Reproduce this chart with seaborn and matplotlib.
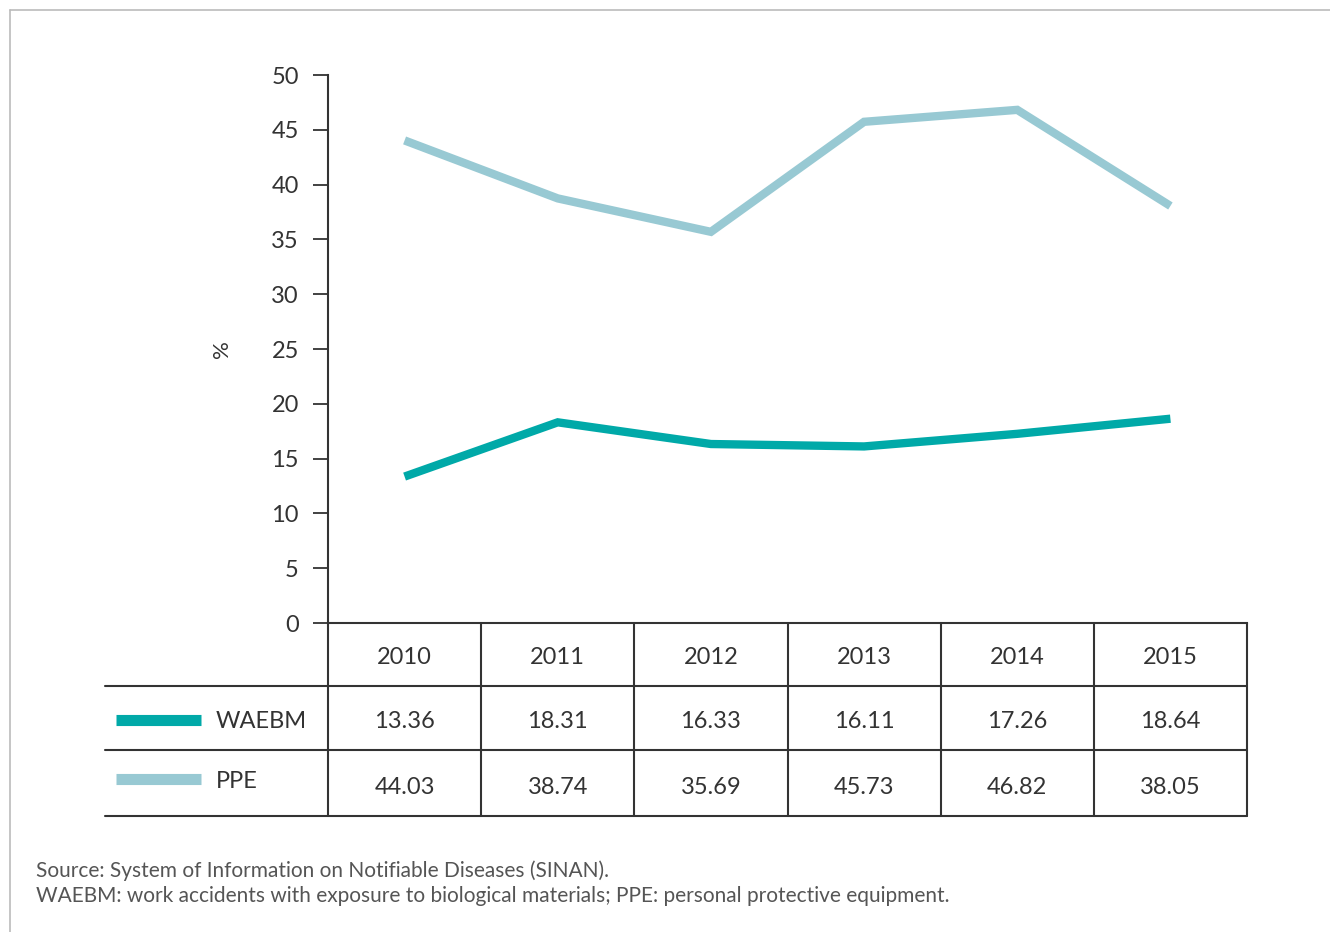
import matplotlib
matplotlib.use("Agg")
import matplotlib.pyplot as plt
import seaborn as sns
import pandas as pd
from matplotlib.lines import Line2D
from matplotlib.transforms import blended_transform_factory

years = ["2010", "2011", "2012", "2013", "2014", "2015"]
waebm = [13.36, 18.31, 16.33, 16.11, 17.26, 18.64]
ppe = [44.03, 38.74, 35.69, 45.73, 46.82, 38.05]
series_names = ["WAEBM", "PPE"]
y_ticks = [0, 5, 10, 15, 20, 25, 30, 35, 40, 45, 50]
footnote_lines = [
    "Source: System of Information on Notifiable Diseases (SINAN).",
    "WAEBM: work accidents with exposure to biological materials; PPE: personal protective equipment.",
]

colors = {"WAEBM": "#00A9A8", "PPE": "#98C9D3"}
dark = "#333333"

sns.set_theme(style="white")
plt.rcParams["font.family"] = ["Lato", "DejaVu Sans"]

df = pd.DataFrame({
    "x": list(range(len(years))) * 2,
    "value": waebm + ppe,
    "series": [series_names[0]] * len(years) + [series_names[1]] * len(years),
})

AX_TOP, AX_BOT, AX_L, AX_R = 75, 623, 328, 1247
AX_H = AX_BOT - AX_TOP
AX_W = AX_R - AX_L

fig = plt.figure(figsize=(13.3, 9.32), dpi=100)
ax = fig.add_axes([AX_L / 1330, 1 - AX_BOT / 932, AX_W / 1330, AX_H / 932])

sns.lineplot(data=df, x="x", y="value", hue="series", palette=colors,
             linewidth=6, legend=False, ax=ax)
for ln in ax.lines:
    ln.set_solid_capstyle("butt")
    ln.set_solid_joinstyle("miter")

ax.set_xlim(-0.5, len(years) - 0.5)
ax.set_ylim(0, 50)
ax.set_yticks(y_ticks)
ax.set_yticklabels([str(t) for t in y_ticks], fontsize=17, color=dark)
ax.set_xticks([])
ax.set_xlabel("")
ax.set_ylabel("%", fontsize=16, color=dark, labelpad=28)
ax.tick_params(axis="y", length=11, width=1.3, color=dark, pad=10, left=True)
for s in ["top", "right"]:
    ax.spines[s].set_visible(False)
for s in ["left", "bottom"]:
    ax.spines[s].set_color(dark)
    ax.spines[s].set_linewidth(1.5)


def ay(ypix):
    return (AX_BOT - ypix) / AX_H


def axx(xpix):
    return (xpix - AX_L) / AX_W


# data table below the axis
trans = blended_transform_factory(ax.transData, ax.transAxes)
row_bounds = [ay(623), ay(686), ay(750), ay(816)]
for xb in [i - 0.5 for i in range(len(years) + 1)]:
    ax.add_line(Line2D([xb, xb], [row_bounds[0], row_bounds[-1]], transform=trans,
                       color=dark, lw=1.5, clip_on=False))
for yb in row_bounds[1:]:
    ax.add_line(Line2D([axx(105), 1.0], [yb, yb], transform=ax.transAxes,
                       color=dark, lw=1.5, clip_on=False))

for i, yr in enumerate(years):
    ax.text(i, ay(658), yr, transform=trans, ha="center", va="center",
            fontsize=17, color=dark)
    ax.text(i, ay(722), f"{waebm[i]:.2f}", transform=trans, ha="center", va="center",
            fontsize=17, color=dark)
    ax.text(i, ay(787), f"{ppe[i]:.2f}", transform=trans, ha="center", va="center",
            fontsize=17, color=dark)

for name, sy, ty in zip(series_names, [720, 779], [722, 781]):
    ax.add_line(Line2D([axx(116), axx(201)], [ay(sy), ay(sy)], transform=ax.transAxes,
                       color=colors[name], lw=8, solid_capstyle="butt", clip_on=False))
    ax.text(axx(216), ay(ty), name, transform=ax.transAxes, ha="left", va="center",
            fontsize=17, color=dark)

# frame lines
fig.add_artist(Line2D([10 / 1330, 1.0], [1 - 10 / 932, 1 - 10 / 932],
                      transform=fig.transFigure, color="#BBBBBB", lw=1.2))
fig.add_artist(Line2D([10 / 1330, 10 / 1330], [0, 1 - 10 / 932],
                      transform=fig.transFigure, color="#BBBBBB", lw=1.2))

fig.text(36 / 1330, 1 - 871 / 932, footnote_lines[0], fontsize=15, color="#555555",
         ha="left", va="center")
fig.text(36 / 1330, 1 - 896 / 932, footnote_lines[1], fontsize=15, color="#555555",
         ha="left", va="center")

fig.savefig("out.png", dpi=100)
